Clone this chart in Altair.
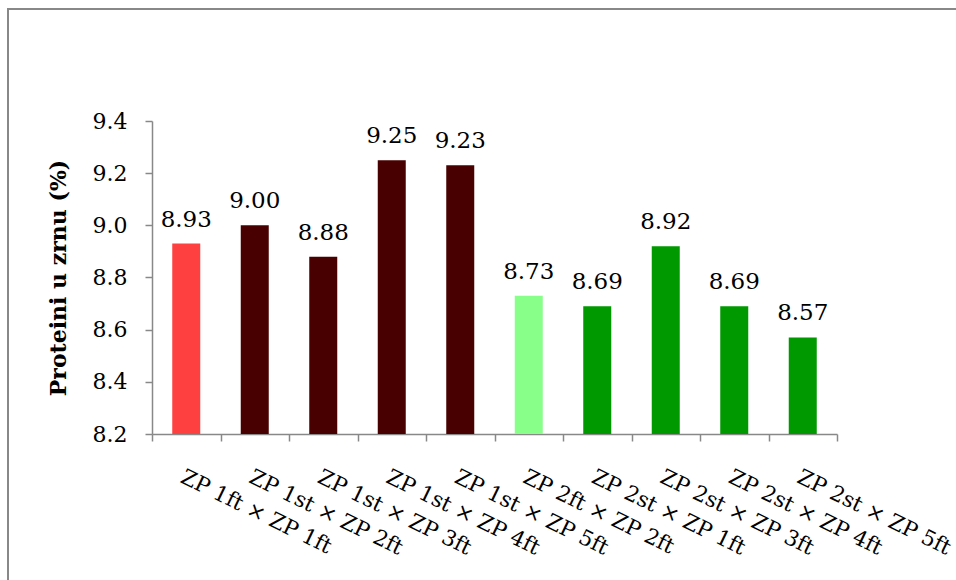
import altair as alt
import pandas as pd

categories = [
    "ZP 1ft × ZP 1ft",
    "ZP 1st × ZP 2ft",
    "ZP 1st × ZP 3ft",
    "ZP 1st × ZP 4ft",
    "ZP 1st × ZP 5ft",
    "ZP 2ft × ZP 2ft",
    "ZP 2st × ZP 1ft",
    "ZP 2st × ZP 3ft",
    "ZP 2st × ZP 4ft",
    "ZP 2st × ZP 5ft",
]
protein = [8.93, 9.00, 8.88, 9.25, 9.23, 8.73, 8.69, 8.92, 8.69, 8.57]
group = ["g1", "g2", "g2", "g2", "g2", "g3", "g4", "g4", "g4", "g4"]
y_ticks = [8.2, 8.4, 8.6, 8.8, 9.0, 9.2, 9.4]

group_domain = ["g1", "g2", "g3", "g4"]
group_colors = ["#ff4040", "#480000", "#88ff88", "#009900"]

df = pd.DataFrame({"cat": categories, "val": protein, "grp": group})

FONT = "DejaVu Serif"
AXIS_GREY = "#888888"

x_enc = alt.X(
    "cat:N",
    sort=None,
    scale=alt.Scale(paddingInner=0, paddingOuter=0),
    axis=alt.Axis(
        title=None,
        labelAngle=26,
        labelAlign="left",
        labelBaseline="top",
        labelFont=FONT,
        labelFontSize=21.5,
        labelColor="black",
        labelPadding=25,
        labelOverlap=False,
        labelLimit=400,
        tickBand="extent",
        tickSize=7,
        tickColor=AXIS_GREY,
        domainColor=AXIS_GREY,
        domainWidth=1.5,
        tickWidth=1.5,
    ),
)
y_enc = alt.Y(
    "val:Q",
    scale=alt.Scale(domain=[8.2, 9.4], zero=False, nice=False),
    axis=alt.Axis(
        title="Proteini u zrnu (%)",
        titleFont=FONT,
        titleFontSize=22,
        titleFontWeight="bold",
        titleColor="black",
        titleX=-94,
        titleY=156.5,
        titleBaseline="middle",
        titleAlign="center",
        values=y_ticks,
        format=".1f",
        labelFont=FONT,
        labelFontSize=22,
        labelColor="black",
        labelPadding=18,
        tickSize=7,
        tickColor=AXIS_GREY,
        domainColor=AXIS_GREY,
        domainWidth=1.5,
        tickWidth=1.5,
        grid=False,
    ),
)

bars = alt.Chart(df).mark_bar(size=28, clip=True).encode(
    x=x_enc,
    y=y_enc,
    color=alt.Color(
        "grp:N",
        scale=alt.Scale(domain=group_domain, range=group_colors),
        legend=None,
    ),
)

labels = alt.Chart(df).mark_text(
    baseline="alphabetic", dy=-17, font=FONT, fontSize=23, color="black"
).encode(
    x=alt.X("cat:N", sort=None),
    y="val:Q",
    text=alt.Text("val:Q", format=".2f"),
)

border_left = alt.Chart(df).mark_rule(color=AXIS_GREY, strokeWidth=2).encode(
    x=alt.value(-144), y=alt.value(-112), y2=alt.value(470)
)
border_top = alt.Chart(df).mark_rule(color=AXIS_GREY, strokeWidth=2).encode(
    x=alt.value(-145), x2=alt.value(820), y=alt.value(-112)
)

chart = (
    alt.layer(bars, labels, border_left, border_top)
    .properties(
        width=685,
        height=313,
        autosize=alt.AutoSizeParams(type="none"),
        padding={"left": 152, "top": 121, "right": 119, "bottom": 146},
        background="white",
    )
    .configure_view(strokeWidth=0)
)

chart.save("out.html", embed_options={"renderer": "svg", "actions": False})
